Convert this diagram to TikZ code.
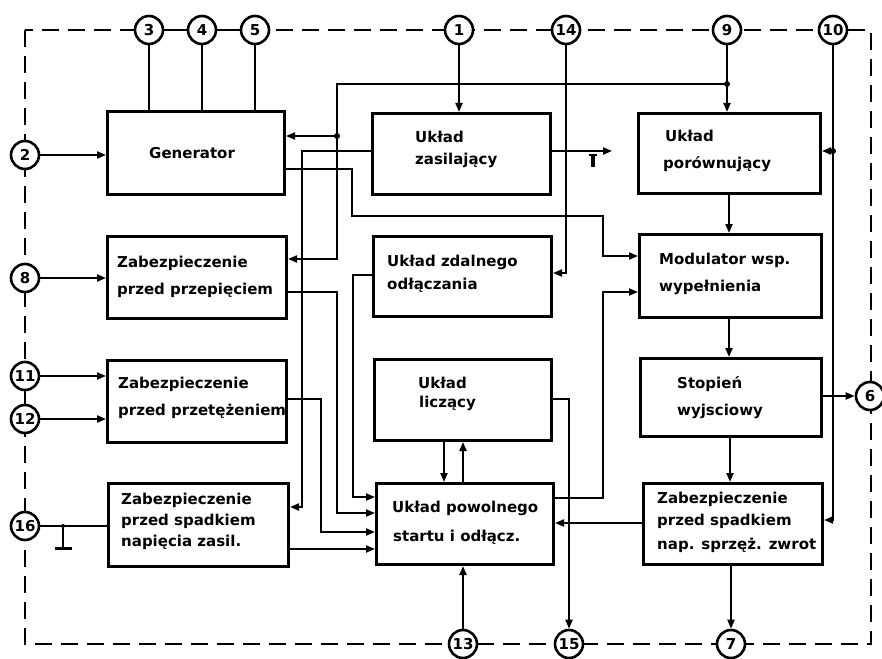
\documentclass[tikz,border=0pt]{standalone}
\usepackage{fontspec}
\setmainfont{DejaVu Sans}
\usetikzlibrary{arrows.meta}
\begin{document}
\begin{tikzpicture}[x=1pt,y=-1pt,
  wire/.style={line width=2pt},
  arr/.style={-{Triangle[length=9pt,width=7pt]}},
  box/.style={draw,line width=3pt,rectangle,inner sep=0pt,anchor=north west},
  txt/.style={anchor=base west,inner sep=0pt,font=\bfseries\fontsize{15}{18}\selectfont},
  pin/.style={draw,circle,line width=2.6pt,fill=white,minimum size=28pt,inner sep=0pt,font=\bfseries\fontsize{15}{15}\selectfont},
  jdot/.style={circle,fill,inner sep=0pt,minimum size=6pt},
  border/.style={line width=2.2pt,dash pattern=on 17pt off 9pt}]

\useasboundingbox (0,0) rectangle (882,658);

% dashed frame
\draw[border] (25,30) rectangle (871,644);

% boxes
\node[box,minimum width=177pt,minimum height=83pt] (gen) at (106,110) {};
\node[box,minimum width=178pt,minimum height=81pt] (zas) at (371,112) {};
\node[box,minimum width=182pt,minimum height=80pt] (por) at (637,112) {};
\node[box,minimum width=179pt,minimum height=82pt] (prz) at (106,235) {};
\node[box,minimum width=178pt,minimum height=80pt] (zd)  at (372,235) {};
\node[box,minimum width=182pt,minimum height=83pt] (mod) at (638,233) {};
\node[box,minimum width=179pt,minimum height=82pt] (prc) at (106,359) {};
\node[box,minimum width=177pt,minimum height=81pt] (lic) at (373,358) {};
\node[box,minimum width=181pt,minimum height=78pt] (st)  at (639,357) {};
\node[box,minimum width=180pt,minimum height=83pt] (spn) at (107,482) {};
\node[box,minimum width=177pt,minimum height=81pt] (pow) at (375,482) {};
\node[box,minimum width=179pt,minimum height=81pt] (zw)  at (642,482) {};

% texts
\node[txt] (gen-t) at (149,158) {Generator};
\node[txt] (zas-t1) at (415,142) {Układ};
\node[txt] (zas-t2) at (415,164) {zasilający};
\node[txt] (por-t1) at (665,141) {Układ};
\node[txt] (por-t2) at (663,168) {porównujący};
\node[txt] (prz-t1) at (117,267) {Zabezpieczenie};
\node[txt] (prz-t2) at (117,294) {przed przepięciem};
\node[txt] (zd-t1) at (387,266) {Układ zdalnego};
\node[txt] (zd-t2) at (387,289) {odłączania};
\node[txt] (mod-t1) at (659,264) {Modulator wsp.};
\node[txt] (mod-t2) at (659,291) {wypełnienia};
\node[txt] (prc-t1) at (118,388) {Zabezpieczenie};
\node[txt] (prc-t2) at (118,415) {przed przetężeniem};
\node[txt] (lic-t1) at (418,388) {Układ};
\node[txt] (lic-t2) at (419,407) {liczący};
\node[txt] (st-t1) at (677,388) {Stopień};
\node[txt] (st-t2) at (677,415) {wyjsciowy};
\node[txt] (spn-t1) at (121,504) {Zabezpieczenie};
\node[txt] (spn-t2) at (121,525) {przed spadkiem};
\node[txt] (spn-t3) at (121,546) {napięcia zasil.};
\node[txt] (pow-t1) at (392,512) {Układ powolnego};
\node[txt] (pow-t2) at (393,541) {startu i odłącz.};
\node[txt] (zw-t1) at (657,503) {Zabezpieczenie};
\node[txt] (zw-t2) at (657,525) {przed spadkiem};
\node[txt] (zw-t3) at (657,549) {nap. sprzęż. zwrot};

% pins
\node[pin] (c3)  at (149,30) {3};
\node[pin] (c4)  at (202,30) {4};
\node[pin] (c5)  at (255,30) {5};
\node[pin] (c1)  at (459,30) {1};
\node[pin] (c14) at (566,30) {14};
\node[pin] (c9)  at (727,30) {9};
\node[pin] (c10) at (833,30) {10};
\node[pin] (c2)  at (25,155) {2};
\node[pin] (c8)  at (25,278) {8};
\node[pin] (c11) at (25,376) {11};
\node[pin] (c12) at (25,419) {12};
\node[pin] (c16) at (25,526) {16};
\node[pin] (c6)  at (870,396) {6};
\node[pin] (c13) at (463,644) {13};
\node[pin] (c15) at (569,644) {15};
\node[pin] (c7)  at (731,644) {7};

\draw[wire] (c3) -- (c4);
\draw[wire] (c4) -- (c5);
\draw[wire] (c11) -- (c12);

% generator connections
\draw[wire] (c3) -- (c3 |- gen.north);
\draw[wire] (c4) -- (c4 |- gen.north);
\draw[wire] (c5) -- (c5 |- gen.north);
\draw[wire,arr] (c2) -- (gen.west |- c2);

% top inputs
\draw[wire,arr] (c1) -- (c1 |- zas.north);
\draw[wire,arr] (c9) -- (c9 |- por.north);
\coordinate (j9) at (c9 |- 0,84);
\coordinate (j1) at (337,136);
\draw[wire,arr] (j9) -- (337,84) -- (337,259) -- (prz.east |- 0,259);
\draw[wire,arr] (j1) -- (gen.east |- j1);
\node[jdot] (d9) at (j9) {};
\node[jdot] (d1) at (j1) {};

% zasilajacy
\draw[wire,arr] (zas.west |- 0,151) -- (302,151) -- (302,507) -- (spn.east |- 0,507);
\coordinate (zo) at (612,151);
\draw[wire,arr] (zas.east |- zo) -- (zo);
\draw[line width=2pt] (589,155) -- (597,155);
\draw[line width=3.2pt] (593,155) -- (593,167);

% generator -> modulator
\draw[wire,arr] (gen.east |- 0,169) -- (352,169) -- (352,216) -- (603,216) -- (603,256) -- (mod.west |- 0,256);

% pin 14
\draw[wire,arr] (c14) -- (c14 |- 0,273) -- (zd.east |- 0,273);

% pin 10
\coordinate (j10) at (c10 |- 0,151);
\draw[wire,arr] (c10) -- (c10 |- 0,520) -- (zw.east |- 0,520);
\draw[wire,arr] (j10) -- (por.east |- j10);
\node[jdot] (d10) at (j10) {};

% right column chain
\draw[wire,arr] (por.south -| 729,0) -- (mod.north -| 729,0);
\draw[wire,arr] (mod.south -| 729,0) -- (st.north -| 729,0);
\draw[wire,arr] (st.south -| 730,0) -- (zw.north -| 730,0);
\draw[wire,arr] (c7 |- zw.south) -- (c7);
\draw[wire,arr] (st.east |- c6) -- (c6);

% zwrot -> powolnego
\draw[wire,arr] (zw.west |- 0,523) -- (pow.east |- 0,523);
% powolnego -> modulator
\draw[wire,arr] (pow.east |- 0,498) -- (603,498) -- (603,292) -- (mod.west |- 0,292);
% liczacy -> 15
\draw[wire,arr] (lic.east |- 0,399) -- (569,399) -- (c15);
% liczacy <-> powolnego
\draw[wire,arr] (lic.south -| 444,0) -- (pow.north -| 444,0);
\draw[wire,arr] (pow.north -| 463,0) -- (lic.south -| 463,0);
\draw[wire,arr] (c13) -- (c13 |- pow.south);

% inputs of powolnego
\draw[wire,arr] (zd.west |- 0,275) -- (353,275) -- (353,497) -- (pow.west |- 0,497);
\draw[wire,arr] (prz.east |- 0,292) -- (337,292) -- (337,513) -- (pow.west |- 0,513);
\draw[wire,arr] (prc.east |- 0,399) -- (321,399) -- (321,532) -- (pow.west |- 0,532);
\draw[wire,arr] (spn.east |- 0,549) -- (pow.west |- 0,549);

% left pins
\draw[wire,arr] (c8) -- (prz.west |- c8);
\draw[wire,arr] (c11) -- (prc.west |- c11);
\draw[wire,arr] (c12) -- (prc.west |- c12);
\draw[wire] (c16) -- (spn.west |- c16);
\coordinate (g16) at (63,526);
\draw[wire] (g16) -- (63,548);
\draw[line width=3pt] (55,548) -- (72,548);
\node[circle,fill,inner sep=0pt,minimum size=4pt] (d16) at (g16) {};
\end{tikzpicture}
\end{document}
